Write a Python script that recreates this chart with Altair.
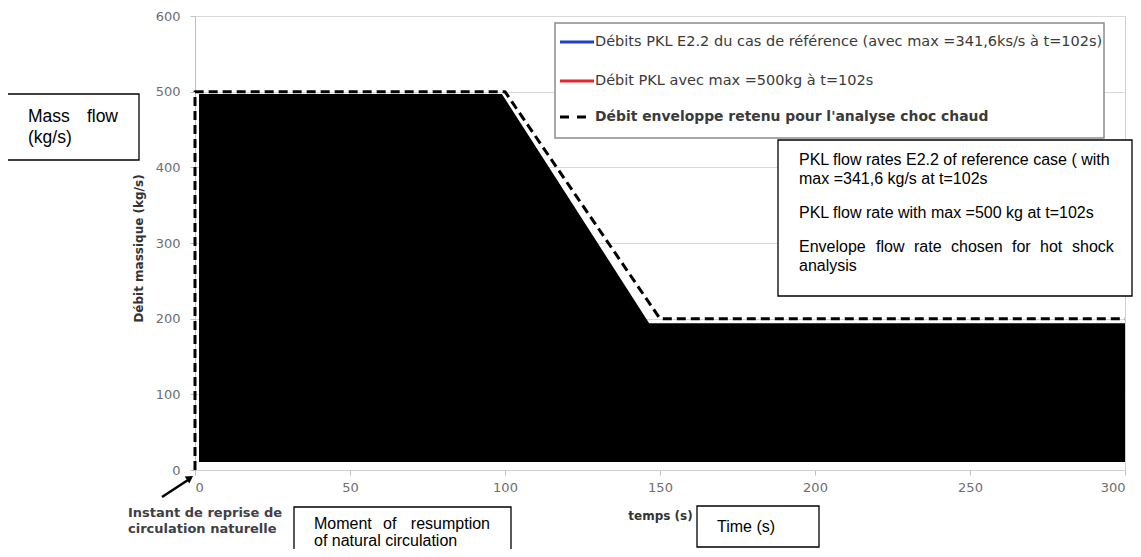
import altair as alt
import pandas as pd

# ---------------- data ----------------
env_t = [0, 0, 100, 150, 300]          # envelope flow (dashed), time in s
env_flow = [0, 500, 500, 200, 200]     # kg/s
fill_t = [1.3, 99, 146.5, 300]         # redacted (black) flow curves
fill_top = [497, 497, 194, 194]
fill_base = [10.5, 10.5, 10.5, 10.5]
x_ticks = [0, 50, 100, 150, 200, 250, 300]
y_ticks = [0, 100, 200, 300, 400, 500, 600]
legend_labels = [
    "Débits PKL E2.2 du cas de référence (avec max =341,6ks/s à t=102s)",
    "Débit PKL avec max =500kg à t=102s",
    "Débit enveloppe retenu pour l'analyse choc chaud",
]
legend_colors = ["#1f3fc8", "#e8232b", "#000000"]

# ---------------- layout (page pixels) ----------------
X0, Y0, W, H = 195, 16, 930, 454
CAL = "DejaVu Sans"
ARIAL = "Liberation Sans"
one = pd.DataFrame({"a": [1]})

env_df = pd.DataFrame({"t": env_t, "flow": env_flow, "i": list(range(len(env_t)))})
fill_df = pd.DataFrame({"t": fill_t, "top": fill_top, "base": fill_base})

xs = alt.Scale(domain=[0, 300], nice=False, zero=False)
ys = alt.Scale(domain=[0, 600], nice=False)

x_axis = alt.Axis(values=x_ticks, grid=False, domainColor="#d0d0d0", tickColor="#c0c0c0",
                  tickSize=5, labelFont=CAL, labelFontSize=13, labelColor="#6e6e6e",
                  labelPadding=6, title="temps (s)", titleFont=CAL, titleFontSize=12,
                  titleFontWeight="bold", titleColor="#333333", titleX=465, titleY=45,
                  titleAlign="center", titleBaseline="middle")
y_axis = alt.Axis(values=y_ticks, grid=True, gridColor="#d9d9d9", domainColor="#c0c0c0",
                  tickColor="#c0c0c0", tickSize=5, labelFont=CAL, labelFontSize=13,
                  labelColor="#6e6e6e", labelPadding=10, title="Débit massique (kg/s)",
                  titleFont=CAL, titleFontSize=12, titleFontWeight="bold",
                  titleColor="#333333", titleX=-57, titleY=232, titleAngle=270,
                  titleAlign="center", titleBaseline="middle")

area = alt.Chart(fill_df).mark_area(color="black", opacity=1).encode(
    x=alt.X("t:Q", scale=xs, axis=x_axis),
    y=alt.Y("top:Q", scale=ys, axis=y_axis),
    y2="base:Q",
)

env_line = alt.Chart(env_df).mark_line(color="black", strokeWidth=3, strokeDash=[9, 5],
                                       strokeJoin="round").encode(
    x=alt.X("t:Q", scale=xs),
    y=alt.Y("flow:Q", scale=ys),
    order="i:Q",
)


def box(x1, y1, x2, y2, stroke="black", sw=1.3):
    return alt.Chart(one).mark_rect(fill="white", stroke=stroke, strokeWidth=sw).encode(
        x=alt.value(x1 - X0), x2=alt.value(x2 - X0),
        y=alt.value(y1 - Y0), y2=alt.value(y2 - Y0))


def txt(s, x, y, size=16, font=ARIAL, color="black", weight="normal", align="left"):
    return alt.Chart(one).mark_text(text=s, align=align, baseline="middle", font=font,
                                    fontSize=size, color=color, fontWeight=weight).encode(
        x=alt.value(x - X0), y=alt.value(y - Y0))


def seg(x1, y1, x2, y2, color="black", sw=2, dash=None):
    kw = dict(color=color, strokeWidth=sw)
    if dash:
        kw["strokeDash"] = dash
    return alt.Chart(one).mark_rule(**kw).encode(
        x=alt.value(x1 - X0), x2=alt.value(x2 - X0),
        y=alt.value(y1 - Y0), y2=alt.value(y2 - Y0))


layers = [area, env_line]

# legend box
layers.append(box(555, 23, 1104, 138, stroke="#8c8c8c", sw=1.5))
rows_y = [42, 81, 117]
for lab, col, ry, k in zip(legend_labels, legend_colors, rows_y, range(3)):
    if k < 2:
        layers.append(seg(560, ry, 594, ry, color=col, sw=3))
        layers.append(txt(lab, 595, ry, size=14.5, font=CAL, color="#3a3a3a"))
    else:
        layers.append(seg(560, ry, 594, ry, color=col, sw=3, dash=[9, 8]))
        layers.append(txt(lab, 595, ry, size=13.9, font=CAL, color="#3a3a3a", weight="bold"))

# English annotation box (right)
layers.append(box(778, 140, 1132, 296))
layers.append(txt("PKL flow rates E2.2 of reference case ( with", 799, 160))
layers.append(txt("max =341,6 kg/s at t=102s", 799, 179))
layers.append(txt("PKL flow rate with max =500 kg at t=102s", 799, 213))
for w, wx in zip(["Envelope", "flow", "rate", "chosen", "for", "hot", "shock"],
                 [799, 876, 914, 951, 1012, 1040, 1072]):
    layers.append(txt(w, wx, 247))
layers.append(txt("analysis", 799, 266))

# Mass flow box
layers.append(box(7, 94, 139, 160))
layers.append(txt("Mass", 28, 117, size=17.5))
layers.append(txt("flow", 118, 117, size=17.5, align="right"))
layers.append(txt("(kg/s)", 28, 138, size=17.5))

# Instant de reprise annotation + arrow
layers.append(seg(162, 497, 188, 480, sw=2.5))
layers.append(alt.Chart(one).mark_point(shape="triangle-up", filled=True, color="black",
                                        size=70, angle=56, opacity=1).encode(
    x=alt.value(190 - X0), y=alt.value(478 - Y0)))
layers.append(txt("Instant de reprise de", 128, 513, size=13, font=CAL, color="#404048", weight="bold"))
layers.append(txt("circulation naturelle", 128, 529, size=13, font=CAL, color="#404048", weight="bold"))

# Moment box
layers.append(box(294, 507, 511, 570))
layers.append(txt("Moment", 314, 524))
layers.append(txt("of", 383, 524))
layers.append(txt("resumption", 490, 524, align="right"))
layers.append(txt("of natural circulation", 314, 541))

# Time box
layers.append(box(697, 506, 819, 547))
layers.append(txt("Time (s)", 717, 527))

chart = alt.layer(*layers).properties(
    width=W, height=H,
    autosize=alt.AutoSizeParams(type="none"),
    padding={"left": 187, "top": 8, "right": 8, "bottom": 79},
    background="white",
).configure_view(stroke="#d0d0d0", strokeWidth=1)

chart.save("out.html", embed_options={"renderer": "svg", "actions": False})
